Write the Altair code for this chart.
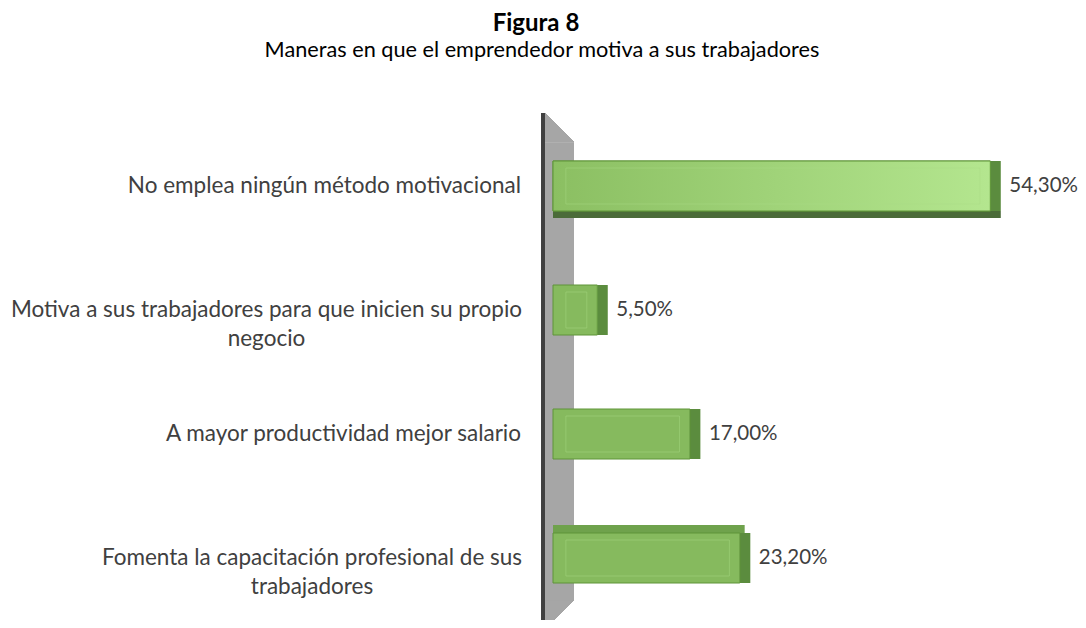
import altair as alt
import pandas as pd

# ---- data ----
categories = [
    "No emplea ningún método motivacional",
    "Motiva a sus trabajadores para que inicien su propio negocio",
    "A mayor productividad mejor salario",
    "Fomenta la capacitación profesional de sus trabajadores",
]
line1 = [
    "No emplea ningún método motivacional",
    "Motiva a sus trabajadores para que inicien su propio",
    "A mayor productividad mejor salario",
    "Fomenta la capacitación profesional de sus",
]
line2 = ["", "negocio", "", "trabajadores"]
values = [54.3, 5.5, 17.0, 23.2]

title_text = ["Figura 8"]
subtitle_text = ["Maneras en que el emprendedor motiva a sus trabajadores"]

df = pd.DataFrame({"category": categories, "line1": line1, "line2": line2, "value": values})

FONT = "Lato"
TXT = "#404040"
FS = 22.5
VFS = 20.5

y_enc = alt.Y("category:N", sort=categories,
              scale=alt.Scale(paddingInner=0, paddingOuter=0), axis=None)
x_scale = alt.Scale(domain=[0, 56], nice=False, zero=True)
x_enc = alt.X("value:Q", scale=x_scale, axis=None)

base = alt.Chart(df)

# back wall (decorative)
wall = base.mark_rect(color="#a6a6a6").encode(
    x=alt.value(-8), x2=alt.value(21), y=alt.value(19), y2=alt.value(476))
wall_top = base.mark_point(shape="M-1,-1L1,1L-1,1Z", size=841, filled=True,
                           color="#a6a6a6", opacity=1, stroke="#a6a6a6",
                           strokeWidth=0.8).encode(
    x=alt.value(6.5), y=alt.value(3.5))
wall_bot = base.mark_point(shape="M-1,-1L1,-1L-1,1Z", size=841, filled=True,
                           color="#a6a6a6", opacity=1, stroke="#a6a6a6",
                           strokeWidth=0.8).encode(
    x=alt.value(6.5), y=alt.value(490.5))
axis_line = base.mark_rule(color="#404040", strokeWidth=3.5).encode(
    x=alt.value(-10), y=alt.value(-11), y2=alt.value(504))

# 3D side face
side = base.transform_calculate(side="datum.value + 1.3").mark_bar(
    size=50, color="#5b8c3e").encode(
    x=x_enc, x2="side:Q", y=y_enc)

# bottom face for the top bar, top face for the bottom bar
bottom_face = base.transform_filter(alt.datum.value > 50).transform_calculate(
    side="datum.value + 1.3").mark_bar(
    size=7, yOffset=28.5, color="#4b6b39").encode(
    x=alt.X("side:Q", scale=x_scale, axis=None), x2=alt.value(5), y=y_enc)
top_face = base.transform_filter(alt.datum.category == categories[3]).transform_calculate(
    side="datum.value + 0.6").mark_bar(
    size=8, yOffset=-29, color="#6fa24c").encode(
    x=alt.X("side:Q", scale=x_scale, axis=None), x2=alt.value(5), y=y_enc)

front = base.mark_bar(size=50, color="#86ba5e", stroke="#5e9438", strokeWidth=1).encode(
    x=x_enc, y=y_enc)

grad = alt.LinearGradient(
    gradient="linear",
    stops=[alt.GradientStop(color="#8bbf62", offset=0),
           alt.GradientStop(color="#b4e68f", offset=1)],
    x1=0, x2=1, y1=0, y2=0)
front_grad = base.transform_filter(alt.datum.value > 50).mark_bar(
    size=50, color=grad, stroke="#5e9438", strokeWidth=1).encode(
    x=x_enc, y=y_enc)

# inner bevel line of the front face
bevel = base.transform_calculate(
    a="1.6", b="datum.value - 1.3").mark_bar(
    size=36, fillOpacity=0, stroke="#a9db86", strokeOpacity=0.45, strokeWidth=1).encode(
    x=alt.X("a:Q", scale=x_scale, axis=None), x2="b:Q", y=y_enc)

value_labels = base.transform_calculate(
    label="replace(format(datum.value, '.2f'), '.', ',') + '%'").mark_text(
    align="left", baseline="middle", dx=19, font=FONT, fontSize=VFS, color=TXT).encode(
    x=x_enc, y=y_enc, text="label:N")

single_labels = base.transform_filter(alt.datum.line2 == "").mark_text(
    align="right", baseline="middle", font=FONT, fontSize=FS, color=TXT).encode(
    x=alt.value(-32), y=y_enc, text="line1:N")

multi_a = base.transform_filter(alt.datum.category == categories[1]).transform_calculate(
    txt="datum.line1 + '\\n' + datum.line2").mark_text(
    align="center", baseline="middle", font=FONT, fontSize=FS, color=TXT,
    lineBreak="\n", lineHeight=29).encode(
    x=alt.value(-286.5), y=y_enc, text="txt:N")

multi_b = base.transform_filter(alt.datum.category == categories[3]).transform_calculate(
    txt="datum.line1 + '\\n' + datum.line2").mark_text(
    align="center", baseline="middle", font=FONT, fontSize=FS, color=TXT,
    lineBreak="\n", lineHeight=29).encode(
    x=alt.value(-241), y=y_enc, text="txt:N")

title_df = pd.DataFrame({"t": title_text})
sub_df = pd.DataFrame({"t": subtitle_text})
title_mark = alt.Chart(title_df).mark_text(
    font=FONT, fontSize=24, fontWeight="bold", color="#000000",
    align="center", baseline="alphabetic").encode(
    x=alt.value(-17), y=alt.value(-93), text="t:N")
sub_mark = alt.Chart(sub_df).mark_text(
    font=FONT, fontSize=21.7, color="#000000",
    align="center", baseline="alphabetic").encode(
    x=alt.value(-11), y=alt.value(-67), text="t:N")

chart = alt.layer(
    wall, wall_top, wall_bot, axis_line, side, bottom_face, top_face,
    front, front_grad, bevel, value_labels, single_labels, multi_a, multi_b,
    title_mark, sub_mark,
).properties(
    width=451, height=496,
    background="white",
    view=alt.ViewBackground(stroke="transparent", strokeWidth=0),
    autosize=alt.AutoSizeParams(type="none"),
    padding={"left": 545, "top": 116, "right": 74, "bottom": 0},
).configure_view(stroke="transparent", strokeWidth=0)

chart.save("out.html", embed_options={"renderer": "svg", "actions": False})
